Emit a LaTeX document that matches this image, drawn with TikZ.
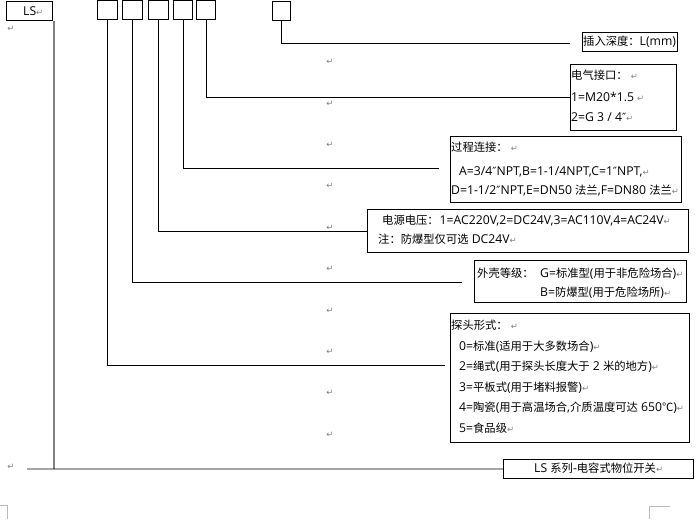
\documentclass[tikz,border=0pt]{standalone}
\usepackage{fontspec}
\usepackage{tikz}
\setmainfont{Open Sans}[Scale=1.08]
\newfontfamily\cjk{Noto Sans CJK SC}
\newfontfamily\symfont{DejaVu Sans}
\newcommand{\zh}[1]{{\cjk #1}}
\newcommand{\inch}{{\symfont ″}}
\newcommand{\ret}{{\symfont\fontsize{8.5}{8.5}\selectfont\textcolor{gray}{↵}}}

\begin{document}
\begin{tikzpicture}[x=1pt, y=-1pt, font=\fontsize{11.3}{13}\selectfont]
      \useasboundingbox (0,0) rectangle (700,519);
      \tikzstyle{every node} = [inner sep = 0pt]
      \tikzstyle{digit} = [draw, line width = 0.8pt, anchor = north west, minimum height = 19pt]
      \tikzstyle{infobox} = [draw, line width = 0.8pt, anchor = north west]
      \tikzstyle{txt} = [anchor = west, text height = 10pt, text depth = 1.5pt]
      \tikzstyle{lead} = [line width = 0.8pt]
      \tikzstyle{spine} = [gray, line width = 1.6pt]
      \tikzstyle{corner} = [gray!55, line width = 0.8pt]

      \node[digit, minimum width = 46pt] (ls) at (6,1) {};
      \node[txt] (lst) at (23,11) {LS\ret};
      \foreach \n/\x/\w in {1/97/20, 2/122/20, 3/148/20, 4/173/19, 5/196/19}{
        \node[digit, minimum width = \w pt] (b\n) at (\x,0.4) {};
      }
      \node[digit, minimum width = 18pt] (b6) at (272,1) {};

      \node[infobox, minimum width = 95pt, minimum height = 19pt] (sd) at (582,32) {};
      \node[infobox, minimum width = 106pt, minimum height = 66pt] (jk) at (570,64) {};
      \node[infobox, minimum width = 231pt, minimum height = 66pt] (gc) at (450,136) {};
      \node[infobox, minimum width = 321pt, minimum height = 43pt] (dy) at (367,209) {};
      \node[infobox, minimum width = 212pt, minimum height = 42pt] (wk) at (474,260) {};
      \node[infobox, minimum width = 239pt, minimum height = 129pt] (tt) at (450,313) {};
      \node[infobox, minimum width = 190pt, minimum height = 19pt] (xl) at (503,459) {};

      \node[txt] (sd1) at (583,41.5) {\zh{插入深度：}L(mm)};

      \node[txt] (jk1) at (571,75) {\zh{电气接口：} \ret};
      \node[txt] (jk2) at (571,97) {1=M20*1.5 \ret};
      \node[txt] (jk3) at (571,117) {2=G 3 / 4\inch\ret};

      \node[txt] (gc1) at (451,147) {\zh{过程连接：} \ret};
      \node[txt] (gc2) at (459,171) {A=3/4\inch{}NPT,B=1-1/4NPT,C=1\inch{}NPT,\ret};
      \node[txt] (gc3) at (451,190) {D=1-1/2\inch{}NPT,E=DN50 \zh{法兰},F=DN80 \zh{法兰}\ret};

      \node[txt] (dy1) at (382,220) {\zh{电源电压：}\hspace{1pt}1=AC220V,2=DC24V,3=AC110V,4=AC24V\ret};
      \node[txt] (dy2) at (378,239) {\zh{注：防爆型仅可选} DC24V\ret};

      \node[txt] (wk1) at (477,273) {\zh{外壳等级：}};
      \node[txt] (wk2) at (540,273) {G=\zh{标准型}(\zh{用于非危险场合})\ret};
      \node[txt] (wk3) at (540,292) {B=\zh{防爆型}(\zh{用于危险场所})\ret};

      \node[txt] (tt0) at (451,325) {\zh{探头形式：} \ret};
      \foreach \i/\t in {1/{0=\zh{标准}(\zh{适用于大多数场合})\ret}, 2/{2=\zh{绳式}(\zh{用于探头长度大于} 2 \zh{米的地方})\ret},
          3/{3=\zh{平板式}(\zh{用于堵料报警})\ret}, 4/{4=\zh{陶瓷}(\zh{用于高温场合},\zh{介质温度可达} 650\zh{℃})\ret}, 5/{5=\zh{食品级}\ret}}{
        \node[txt] (tt\i) at (459,325.5+20.5*\i) {\t};
      }

      \node[txt] (xl1) at (534,468.5) {LS \zh{系列}-\zh{电容式物位开关}\ret};

      \coordinate (e1) at (445,365);
      \coordinate (e2) at (462,282);
      \coordinate (e4) at (439,168);
      \coordinate (e6) at (570,43);
      \foreach \n/\t in {1/e1, 2/e2, 3/dy.west, 4/e4, 5/jk.west, 6/e6}{
        \draw[lead] (b\n.south) |- (\t);
      }

      \coordinate (bl) at (27,469);
      \draw[spine] ([xshift=1pt]ls.south east) -- ([xshift=1pt]ls.south east |- xl.west);
      \draw[lead] (bl) -- (xl.west);

      \foreach \i in {0,...,9}{
        \node (r\i) at (330,62+41.4*\i) {\ret};
      }
      \node (l0) at (11,29) {\ret};
      \node (l1) at (11,467) {\ret};

      \draw[corner] (0,505) -- (7,505) -- (7,519);
      \draw[corner] (670,506) -- (649,506) -- (649,519);
    \end{tikzpicture}
\end{document}
